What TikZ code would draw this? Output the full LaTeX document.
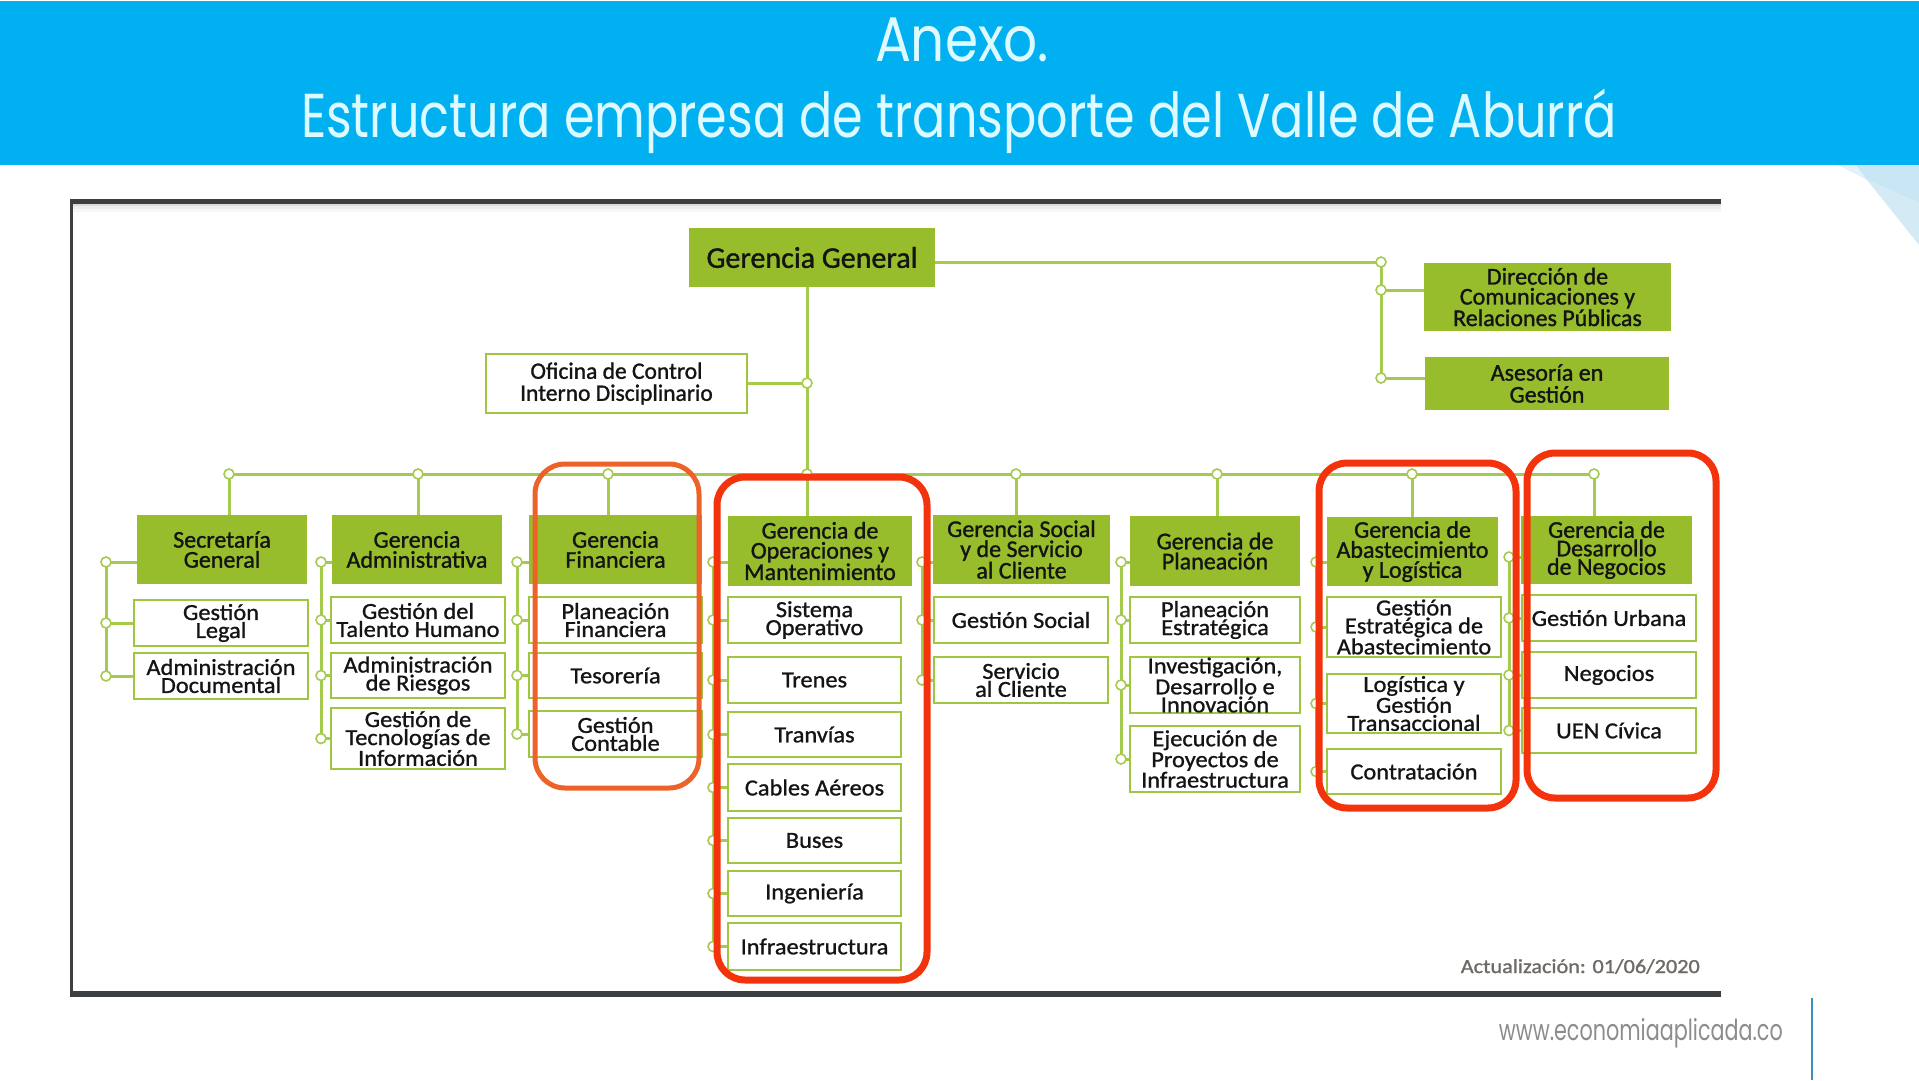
\documentclass[tikz,border=0pt]{standalone}
\usepackage{fontspec}
\usepackage{graphicx}
\setmainfont{Carlito}[FakeBold=1.2]
\newfontfamily\subfont[FakeStretch=1.06,FakeBold=1.0]{Carlito}
\newfontfamily\plainfont{Carlito}
\newfontfamily\titlefont{Poppins}
\definecolor{band}{HTML}{00B0F0}
\definecolor{ttl}{RGB}{220,250,255}
\definecolor{gfill}{HTML}{97BD2C}
\definecolor{gline}{HTML}{A4CA4E}
\definecolor{gborder}{HTML}{9EC641}
\definecolor{redbox}{HTML}{F2330C}
\definecolor{orgbox}{HTML}{EC6228}
\definecolor{framec}{HTML}{3C3F42}
\definecolor{txt}{HTML}{141414}
\definecolor{urlgray}{HTML}{8C8C8C}
\definecolor{updgray}{HTML}{6E6A66}
\definecolor{decoa}{HTML}{E3F2FA}
\definecolor{decob}{HTML}{C9E6F4}
\definecolor{decoc}{HTML}{D4EBF6}
\definecolor{sepblue}{HTML}{3D8FC0}
\begin{document}
\begin{tikzpicture}[x=1pt,y=-1pt,
 wh/.style n args={2}{minimum width=#1pt, minimum height=#2pt},
 hdr/.style={fill=gfill, inner sep=0pt, align=center, text=txt, font=\fontsize{24}{20}\selectfont},
 sub/.style={draw=gborder, line width=2.5pt, fill=white, inner sep=0pt, align=center, text=txt, font=\subfont\fontsize{23}{18}\selectfont},
 conn/.style={draw=gline, line width=3pt},
 dot/.style={circle, draw=gline, line width=1.6pt, fill=white, inner sep=0pt, minimum size=10pt},
 hl/.style={rounded corners=28pt, line width=7pt, draw=redbox},
]
\useasboundingbox (0,0) rectangle (1919,1080);
% header band
\fill[band] (0,1) rectangle (1919,165);
\fill[decoa] (1838,165) -- (1867,180) -- (1856,165) -- cycle;
\fill[decob] (1856,165) -- (1919,165) -- (1919,203) -- (1867,180) -- cycle;
\fill[decoc] (1867,180) -- (1919,203) -- (1919,245) -- cycle;
\node[anchor=base, text=ttl, inner sep=0pt] (t1) at (962,61) {\resizebox{174pt}{\height}{\titlefont\fontsize{63}{63}\selectfont Anexo.}};
\node[anchor=base, text=ttl, inner sep=0pt] (t2) at (959,137) {\resizebox{1316pt}{\height}{\titlefont\fontsize{62}{62}\selectfont Estructura empresa de transporte del Valle de Aburrá}};
% frame
\fill[framec] (71,199) rectangle (1721,203.5);
\fill[black!14] (71,203.5) rectangle (1721,206);
\fill[black!7] (71,206) rectangle (1721,209);
\fill[black!3] (71,209) rectangle (1721,212);
\fill[framec] (70,199) rectangle (72.5,997);
\fill[framec] (70,991) rectangle (1721,997);
\draw[sepblue, line width=1.5pt] (1812,998) -- (1812,1080);
\node[anchor=base east, text=urlgray, inner sep=0pt] (url) at (1783,1040) {\resizebox{284pt}{\height}{\titlefont\fontsize{29}{29}\selectfont www.economiaaplicada.co}};
\node[anchor=base east, text=updgray, inner sep=0pt] (upd) at (1700,973) {\resizebox{239pt}{\height}{\fontsize{20}{20}\selectfont Actualización: 01/06/2020}};

% top level
\node[hdr, wh={246}{59}, font=\fontsize{30}{30}\selectfont] (gg) at (812,257.5) {Gerencia General};
\node[hdr, wh={247}{68}] (dir) at (1547.5,297) {Dirección de\\Comunicaciones y\\Relaciones Públicas};
\node[hdr, wh={244}{53}, font=\fontsize{24}{22}\selectfont] (ase) at (1547,383.5) {Asesoría en\\Gestión};
\node[sub, wh={261}{59}, font=\fontsize{23.5}{22}\selectfont] (ofi) at (616.5,383.5) {Oficina de Control\\Interno Disciplinario};

% level 2 headers
\node[hdr, wh={170}{69}] (sec) at (222,549.5) {Secretaría\\General};
\node[hdr, wh={170}{69}] (adm) at (417,549.5) {Gerencia\\Administrativa};
\node[hdr, wh={173}{69}] (fin) at (615.5,549.5) {Gerencia\\Financiera};
\node[hdr, wh={184}{70}] (ops) at (820,551) {Gerencia de\\Operaciones y\\Mantenimiento};
\node[hdr, wh={177}{69}] (soc) at (1021.5,549.5) {Gerencia Social\\y de Servicio\\al Cliente};
\node[hdr, wh={170}{70}] (pla) at (1215,551) {Gerencia de\\Planeación};
\node[hdr, wh={171}{69}] (aba) at (1412.5,551.5) {Gerencia de\\Abastecimiento\\y Logística};
\node[hdr, wh={171}{68}, font=\fontsize{24}{18.5}\selectfont] (des) at (1606.5,550) {Gerencia de\\Desarrollo\\de Negocios};

% sub boxes
\node[sub, wh={174}{46}] (sec1) at (221,623) {Gestión\\Legal};
\node[sub, wh={174}{46}] (sec2) at (221,676) {Administración\\Documental};
\node[sub, wh={174}{46}] (adm1) at (418,620) {Gestión del\\Talento Humano};
\node[sub, wh={174}{45}] (adm2) at (418,675.5) {Administración\\de Riesgos};
\node[sub, wh={174}{61}] (adm3) at (418,738.5) {Gestión de\\Tecnologías de\\Información};
\node[sub, wh={173}{46}] (fin1) at (615.5,620) {Planeación\\Financiera};
\node[sub, wh={173}{45}] (fin2) at (615.5,675.5) {Tesorería};
\node[sub, wh={173}{46}] (fin3) at (615.5,734) {Gestión\\Contable};
\node[sub, wh={173}{46}] (ops1) at (814.5,620) {Sistema\\Operativo};
\node[sub, wh={173}{46}] (ops2) at (814.5,680) {Trenes};
\node[sub, wh={173}{45}] (ops3) at (814.5,734.5) {Tranvías};
\node[sub, wh={173}{47}] (ops4) at (814.5,787.5) {Cables Aéreos};
\node[sub, wh={173}{45}] (ops5) at (814.5,840.5) {Buses};
\node[sub, wh={173}{45}] (ops6) at (814.5,893.5) {Ingeniería};
\node[sub, wh={173}{47}] (ops7) at (814.5,946.5) {Infraestructura};
\node[sub, wh={174}{46}] (soc1) at (1021,620) {Gestión Social};
\node[sub, wh={174}{46}] (soc2) at (1021,680) {Servicio\\al Cliente};
\node[sub, wh={170}{46}] (pla1) at (1215,620) {Planeación\\Estratégica};
\node[sub, wh={170}{56}] (pla2) at (1215,685) {Investigación,\\Desarrollo e\\Innovación};
\node[sub, wh={170}{66}] (pla3) at (1215,759) {Ejecución de\\Proyectos de\\Infraestructura};
\node[sub, wh={174}{60}] (aba1) at (1414,627) {Gestión\\Estratégica de\\Abastecimiento};
\node[sub, wh={174}{59}] (aba2) at (1414,703.5) {Logística y\\Gestión\\Transaccional};
\node[sub, wh={174}{45}] (aba3) at (1414,771.5) {Contratación};
\node[sub, wh={174}{46}] (des1) at (1609,618) {Gestión Urbana};
\node[sub, wh={174}{46}] (des2) at (1609,675) {Negocios};
\node[sub, wh={174}{45}] (des3) at (1609,730.5) {UEN Cívica};

% connectors: top
\coordinate (gjr) at (1381,262);
\coordinate (gj1) at (1381,290);
\coordinate (gj2) at (1381,378);
\draw[conn] (gg.east |- gjr) -- (gjr) -- (gj2);
\draw[conn] (gj1) -- (gj1 -| dir.west);
\draw[conn] (gj2) -- (gj2 -| ase.west);
\coordinate (mbus) at (807,474);
\coordinate (oj) at (807,383);
\draw[conn] (gg.south -| mbus) -- (mbus);
\draw[conn] (ofi.east |- oj) -- (oj);
% bus
\coordinate (bsec) at (229,474);
\coordinate (badm) at (418,474);
\coordinate (bfin) at (608,474);
\coordinate (bsoc) at (1016,474);
\coordinate (bpla) at (1217,474);
\coordinate (baba) at (1412,474);
\coordinate (bdes) at (1594,474);
\draw[conn] (bsec) -- (bdes);
\foreach \b/\h in {bsec/sec,badm/adm,bfin/fin,mbus/ops,bsoc/soc,bpla/pla,baba/aba,bdes/des}
  \draw[conn] (\b) -- (\b |- \h.north);

% column connectors
\coordinate (vsec) at (106,562);
\coordinate (vadm) at (321,562);
\coordinate (vfin) at (517,562);
\coordinate (vops) at (713,562);
\coordinate (vsoc) at (922,562);
\coordinate (vpla) at (1121,562);
\coordinate (vaba) at (1316,562);
\coordinate (vdes) at (1509,557);
\draw[conn] (vsec) -- (vsec |- sec2.west);
\draw[conn] (vadm) -- (vadm |- adm3.west);
\draw[conn] (vfin) -- (vfin |- fin3.west);
\draw[conn] (vops) -- (vops |- ops7.west);
\draw[conn] (vsoc) -- (vsoc |- soc2.west);
\draw[conn] (vpla) -- (vpla |- pla3.west);
\draw[conn] (vaba) -- (vaba |- aba3.west);
\draw[conn] (vdes) -- (vdes |- des3.west);
\foreach \v/\h in {vsec/sec,vadm/adm,vfin/fin,vops/ops,vsoc/soc,vpla/pla,vaba/aba,vdes/des}
  \draw[conn] (\v) -- (\v -| \h.west);
\foreach \v/\s in {vsec/sec1,vsec/sec2,vadm/adm1,vadm/adm2,vadm/adm3,vfin/fin1,vfin/fin2,vfin/fin3,
  vops/ops1,vops/ops2,vops/ops3,vops/ops4,vops/ops5,vops/ops6,vops/ops7,vsoc/soc1,vsoc/soc2,
  vpla/pla1,vpla/pla2,vpla/pla3,vaba/aba1,vaba/aba2,vaba/aba3,vdes/des1,vdes/des2,vdes/des3}
  \draw[conn] (\v |- \s.west) -- (\s.west);

% dots
\foreach \c in {gjr,gj1,gj2,oj,mbus,bsec,badm,bfin,bsoc,bpla,baba,bdes,vsec,vadm,vfin,vops,vsoc,vpla,vaba,vdes}
  \node[dot] at (\c) {};
\foreach \v/\s in {vsec/sec1,vsec/sec2,vadm/adm1,vadm/adm2,vadm/adm3,vfin/fin1,vfin/fin2,vfin/fin3,
  vops/ops1,vops/ops2,vops/ops3,vops/ops4,vops/ops5,vops/ops6,vops/ops7,vsoc/soc1,vsoc/soc2,
  vpla/pla1,vpla/pla2,vpla/pla3,vaba/aba1,vaba/aba2,vaba/aba3,vdes/des1,vdes/des2,vdes/des3}
  \node[dot] at (\v |- \s.west) {};

% highlight frames
\draw[hl, draw=orgbox, line width=5pt, rounded corners=30pt] (535,464) rectangle (699,788);
\draw[hl] (717,477) rectangle (927,980);
\draw[hl] (1319,463) rectangle (1516,808);
\draw[hl] (1527,453) rectangle (1716,798);
\end{tikzpicture}
\end{document}
